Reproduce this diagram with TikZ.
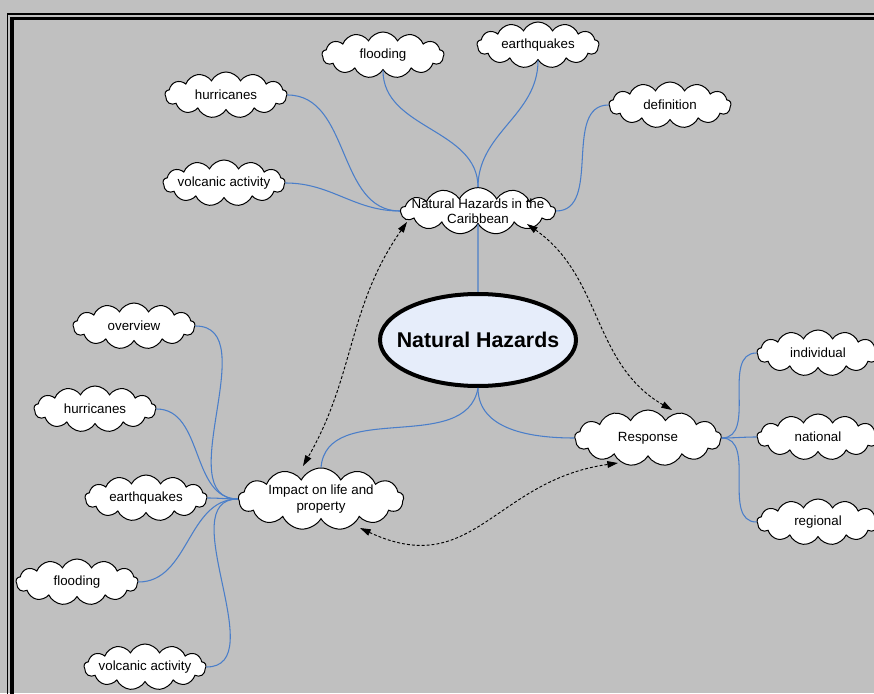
\documentclass[tikz,border=0pt]{standalone}
\usepackage{fontspec}
\setmainfont{Liberation Sans}
\usetikzlibrary{shapes.symbols,shapes.geometric,arrows.meta,calc}
\definecolor{bgcol}{RGB}{192,192,192}
\definecolor{conncol}{RGB}{74,126,201}
\definecolor{nhfill}{RGB}{230,237,250}
\begin{document}
\begin{tikzpicture}[x=0.75pt,y=0.75pt,
  cloudbox/.style={cloud, cloud puffs=13, cloud puff arc=125, cloud ignores aspect,
    draw=black, line width=0.75pt, fill=white,
    minimum width=91.5pt, minimum height=34.5pt, inner sep=0pt},
  ctext/.style={font=\fontsize{10}{11.5}\selectfont, align=center, inner sep=0pt},
  conn/.style={draw=conncol, line width=0.8pt},
  dasharrow/.style={draw=black, line width=0.7pt, dash pattern=on 2.2pt off 1.5pt,
    {Triangle[length=8pt,width=5pt]}-{Triangle[length=8pt,width=5pt]}}
]
\fill[bgcol] (0,0) rectangle (874,693);
\useasboundingbox (0,0) rectangle (874,693);
\begin{scope}
\clip (0,0) rectangle (874,693);
\draw[line width=1.1pt] (7.5,-20) -- (7.5,679) -- (900,679);
\draw[line width=2.6pt] (12,-20) -- (12,674.5) -- (900,674.5);
\end{scope}

% nodes
\node[cloudbox, label={[ctext]center:flooding}] (flood1) at (383,638) {};
\node[cloudbox, label={[ctext]center:earthquakes}] (earth1) at (538,648) {};
\node[cloudbox, label={[ctext]center:hurricanes}] (hur1) at (226,598) {};
\node[cloudbox, label={[ctext]center:definition}] (defn) at (670,588) {};
\node[cloudbox, label={[ctext]center:volcanic activity}] (volc1) at (224,510) {};
\node[cloudbox, minimum width=116pt, minimum height=35pt,
  label={[ctext]center:Natural Hazards in the\\Caribbean}] (car) at (478,482) {};
\node[ellipse, draw=black, line width=3pt, fill=nhfill, minimum width=147pt,
  minimum height=69pt, inner sep=0pt,
  label={[font=\bfseries\fontsize{16}{19}\selectfont, inner sep=0pt]center:Natural Hazards}] (nh) at (478,353) {};
\node[cloudbox, minimum width=110pt, minimum height=42pt,
  label={[ctext]center:Response}] (resp) at (648,255) {};
\node[cloudbox, label={[ctext]center:individual}] (indiv) at (818,340) {};
\node[cloudbox, label={[ctext]center:national}] (natl) at (818,256) {};
\node[cloudbox, label={[ctext]center:regional}] (regl) at (818,171) {};
\node[cloudbox, minimum width=124pt, minimum height=46.5pt,
  label={[ctext]center:Impact on life and\\property}] (imp) at (321,194) {};
\node[cloudbox, label={[ctext]center:overview}] (over) at (134,367) {};
\node[cloudbox, label={[ctext]center:hurricanes}] (hur2) at (95,284) {};
\node[cloudbox, label={[ctext]center:earthquakes}] (earth2) at (146,195) {};
\node[cloudbox, label={[ctext]center:flooding}] (flood2) at (77,111) {};
\node[cloudbox, label={[ctext]center:volcanic activity}] (volc2) at (145,26) {};

% blue connectors
\draw[conn] (hur1.east) to[out=0,in=180] (car.west);
\draw[conn] (volc1.east) to[out=0,in=180] (car.west);
\draw[conn] (flood1.south) to[out=-90,in=90] (car.north);
\draw[conn] (earth1.south) to[out=-90,in=90] (car.north);
\draw[conn] (defn.west) to[out=180,in=0] (car.east);
\draw[conn] (car.south) -- (nh.north);
\draw[conn] (nh.south) to[out=-100,in=85] (imp.north);
\draw[conn] (nh.south) to[out=-90,in=180] (resp.west);
\draw[conn] (resp.east) to[out=0,in=180] (indiv.west);
\draw[conn] (resp.east) to[out=0,in=180] (natl.west);
\draw[conn] (resp.east) to[out=0,in=180] (regl.west);
\draw[conn] (imp.west) to[out=180,in=0] (over.east);
\draw[conn] (imp.west) to[out=180,in=0] (hur2.east);
\draw[conn] (imp.west) to[out=180,in=0] (earth2.east);
\draw[conn] (imp.west) to[out=180,in=0] (flood2.east);
\draw[conn] (imp.west) to[out=180,in=0] (volc2.east);

% dashed arrows
\draw[dasharrow] ($(car)+(-71,-11)$) to[out=235,in=60] ($(imp)+(-18,33)$);
\draw[dasharrow] ($(car)+(49,-13)$) to[out=-35,in=150] ($(resp)+(24,28)$);
\draw[dasharrow] ($(imp)+(39,-29)$) to[out=-25,in=188,looseness=1.2] ($(resp)+(-30,-25)$);
\end{tikzpicture}
\end{document}
